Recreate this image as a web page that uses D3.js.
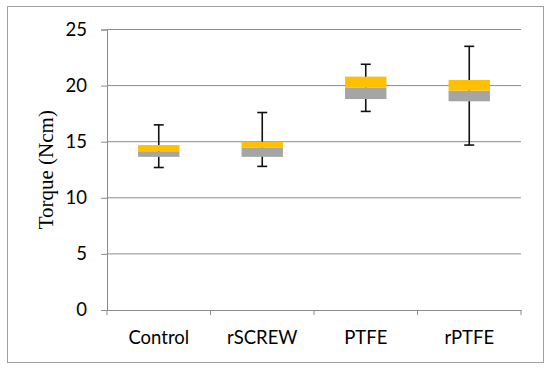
<!DOCTYPE html>
<html><head><meta charset="utf-8">
<script src="https://cdn.jsdelivr.net/npm/d3@7"></script>
<style>body{margin:0;background:#fff}svg{display:block}</style>
</head><body>
<svg id="c" width="550" height="370"></svg>
<script>
const categories = ["Control", "rSCREW", "PTFE", "rPTFE"];
const whiskerLow = [12.7, 12.8, 17.7, 14.7];
const q1 = [13.65, 13.65, 18.8, 18.6];
const median = [14.15, 14.45, 19.8, 19.55];
const q3 = [14.7, 15.0, 20.8, 20.5];
const whiskerHigh = [16.5, 17.6, 21.9, 23.5];
const yTicks = [0, 5, 10, 15, 20, 25];

const svg = d3.select("#c");
const m = {left: 107, right: 521, top: 29.5, bottom: 310};
const tickFont = "Lato, 'Open Sans', sans-serif";

svg.append("rect").attr("x", 7.5).attr("y", 6.5).attr("width", 536).attr("height", 356)
  .attr("fill", "#fff").attr("stroke", "#a0a0a0").attr("stroke-width", 1);

const x = d3.scaleBand().domain(categories).range([m.left, m.right]);
const y = d3.scaleLinear().domain([0, 25]).range([m.bottom, m.top]);

// gridlines
svg.append("g").selectAll("line").data(yTicks.filter(d => d > 0)).join("line")
  .attr("x1", m.left).attr("x2", m.right)
  .attr("y1", d => y(d)).attr("y2", d => y(d))
  .attr("stroke", "#8c8c8c").attr("stroke-width", 1);

// y axis
const ya = svg.append("g").attr("transform", `translate(${m.left},0)`)
  .call(d3.axisLeft(y).tickValues(yTicks).tickSize(6).tickPadding(14));
ya.select(".domain").attr("stroke", "#8c8c8c");
ya.selectAll(".tick line").attr("stroke", "#8c8c8c");
ya.selectAll("text").attr("font-family", tickFont).attr("font-size", 18.5).attr("fill", "#000");

// x axis
const xa = svg.append("g").attr("transform", `translate(0,${m.bottom})`)
  .call(d3.axisBottom(x).tickSize(0));
xa.select(".domain").attr("stroke", "#8c8c8c");
xa.selectAll("text").attr("y", 34).attr("dy", 0)
  .attr("font-family", tickFont).attr("font-size", 18.5).attr("fill", "#000");
svg.append("g").selectAll("line").data(categories.concat(["__end"])).join("line")
  .attr("x1", (d, i) => i < categories.length ? x(d) : m.right)
  .attr("x2", (d, i) => i < categories.length ? x(d) : m.right)
  .attr("y1", m.bottom).attr("y2", m.bottom + 5)
  .attr("stroke", "#8c8c8c");

// axis title
svg.append("text").attr("transform", `translate(53,${(m.top + m.bottom) / 2}) rotate(-90)`)
  .attr("text-anchor", "middle").attr("font-family", "'Liberation Serif', 'DejaVu Serif', serif")
  .attr("font-size", 21).attr("fill", "#000").text("Torque (Ncm)");

const bw = x.bandwidth() * 0.4;
const g = svg.append("g");
categories.forEach((c, i) => {
  const cx = x(c) + x.bandwidth() / 2;
  g.append("line").attr("x1", cx).attr("x2", cx).attr("y1", y(whiskerLow[i])).attr("y2", y(whiskerHigh[i]))
    .attr("stroke", "#111").attr("stroke-width", 1.6);
  [whiskerLow[i], whiskerHigh[i]].forEach(v => {
    g.append("line").attr("x1", cx - 5).attr("x2", cx + 5).attr("y1", y(v)).attr("y2", y(v))
      .attr("stroke", "#111").attr("stroke-width", 1.6);
  });
  g.append("rect").attr("x", cx - bw / 2).attr("width", bw)
    .attr("y", y(median[i])).attr("height", y(q1[i]) - y(median[i])).attr("fill", "#A5A5A5");
  g.append("rect").attr("x", cx - bw / 2).attr("width", bw)
    .attr("y", y(q3[i])).attr("height", y(median[i]) - y(q3[i])).attr("fill", "#FFC000");
});
</script>
</body></html>
